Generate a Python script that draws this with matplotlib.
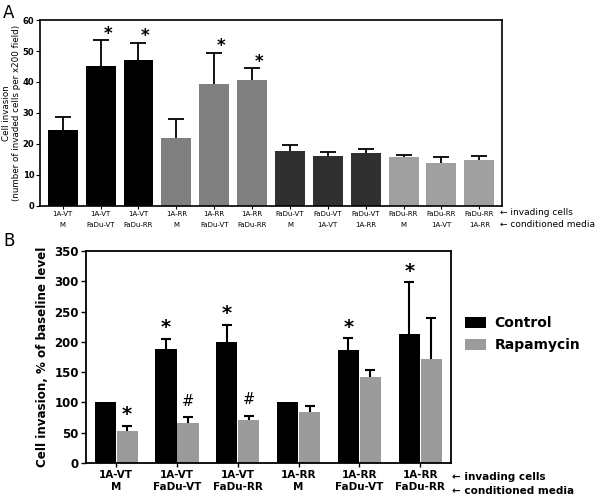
import numpy as np
import matplotlib
matplotlib.use('Agg')
import matplotlib.pyplot as plt

# panel A data
a_labels = ["1A-VT\nM", "1A-VT\nFaDu-VT", "1A-VT\nFaDu-RR",
            "1A-RR\nM", "1A-RR\nFaDu-VT", "1A-RR\nFaDu-RR",
            "FaDu-VT\nM", "FaDu-VT\n1A-VT", "FaDu-VT\n1A-RR",
            "FaDu-RR\nM", "FaDu-RR\n1A-VT", "FaDu-RR\n1A-RR"]
a_means = [24.5, 45.2, 47.1, 21.8, 39.3, 40.5, 17.8, 16.1, 17.2, 15.8, 14.0, 14.8]
a_tops = [28.7, 53.5, 52.7, 28.0, 49.5, 44.4, 19.8, 17.3, 18.5, 16.5, 15.8, 16.2]
a_star = [False, True, True, False, True, True, False, False, False, False, False, False]
a_colors = ["#000000"] * 3 + ["#808080"] * 3 + ["#303030"] * 3 + ["#a0a0a0"] * 3

# panel B data
b_labels = ["1A-VT\nM", "1A-VT\nFaDu-VT", "1A-VT\nFaDu-RR",
            "1A-RR\nM", "1A-RR\nFaDu-VT", "1A-RR\nFaDu-RR"]
ctrl = [100, 188, 200, 100, 187, 213]
ctrl_top = [100, 205, 228, 100, 206, 298]
ctrl_mark = ["", "*", "*", "", "*", "*"]
rapa = [52.7, 66.4, 70.8, 84.5, 142, 171]
rapa_top = [61.4, 76, 78, 93.8, 153.6, 238.6]
rapa_mark = ["*", "#", "#", "", "", ""]


def up_err(ax, x, y, top, lw, cap):
    # one-sided (upper) error bar, lower cap hidden
    eb = ax.errorbar(x, y, yerr=[[0], [top - y]], fmt='none', ecolor='black',
                     elinewidth=lw, capsize=cap, capthick=lw)
    eb.lines[1][0].set_visible(False)


fig = plt.figure(figsize=(6, 5.01), dpi=100)

# ---------------- panel A
axA = fig.add_axes([0.0667, 0.589, 0.77, 0.371])
xa = np.arange(len(a_means))
axA.bar(xa, a_means, width=0.79, color=a_colors)
for i in range(len(a_means)):
    up_err(axA, xa[i], a_means[i], a_tops[i], 1.3, 6)
    if a_star[i]:
        axA.annotate("*", (xa[i], a_tops[i]), xytext=(5, -2), textcoords='offset points',
                     ha='center', va='bottom', fontsize=12, fontweight='bold')
axA.set_xlim(-0.6, len(a_means) - 0.4)
axA.set_ylim(0, 60)
axA.set_yticks(range(0, 61, 10))
axA.set_xticks(xa)
axA.set_xticklabels(a_labels, fontsize=5, linespacing=1.9)
axA.tick_params(axis='y', labelsize=6, length=3, width=0.8, pad=1)
axA.tick_params(axis='x', length=2.5, width=0.8, pad=1.5)
for t in axA.get_yticklabels():
    t.set_fontweight('bold')
axA.set_ylabel("Cell invasion\n(number of invaded cells per x200 field)", fontsize=6.3,
               labelpad=1.5, linespacing=1.15)
for s in axA.spines.values():
    s.set_linewidth(1.2)
fig.text(3 / 600, 1 - 13 / 501, "A", fontsize=12, va='center')
fig.text(500 / 600, 1 - 212 / 501, "\u2190 invading cells", fontsize=6.5, va='center')
fig.text(500 / 600, 1 - 224.5 / 501, "\u2190 conditioned media", fontsize=6.5, va='center')

# ---------------- panel B
axB = fig.add_axes([0.143, 0.076, 0.608, 0.423])
xb = np.arange(len(ctrl))
w = 0.35
off = 0.18
axB.bar(xb - off, ctrl, width=w, color='black', label='Control')
axB.bar(xb + off, rapa, width=w, color='#9b9b9b', label='Rapamycin')
for i in range(len(ctrl)):
    if ctrl_top[i] > ctrl[i]:
        up_err(axB, xb[i] - off, ctrl[i], ctrl_top[i], 1.5, 3.5)
    up_err(axB, xb[i] + off, rapa[i], rapa_top[i], 1.5, 3.5)
    if ctrl_mark[i]:
        axB.annotate(ctrl_mark[i], (xb[i] - off, ctrl_top[i]), xytext=(0, 1),
                     textcoords='offset points', ha='center', va='bottom',
                     fontsize=14, fontweight='bold')
    if rapa_mark[i] == "*":
        axB.annotate("*", (xb[i] + off, rapa_top[i]), xytext=(0, 1),
                     textcoords='offset points', ha='center', va='bottom',
                     fontsize=14, fontweight='bold')
    elif rapa_mark[i]:
        axB.annotate(rapa_mark[i], (xb[i] + off, rapa_top[i]), xytext=(0, 6),
                     textcoords='offset points', ha='center', va='bottom',
                     fontsize=10.5)
axB.set_xlim(-0.5, len(ctrl) - 0.5)
axB.set_ylim(0, 350)
axB.set_yticks(range(0, 351, 50))
axB.set_xticks(xb)
axB.set_xticklabels(b_labels, fontsize=7.5, fontweight='bold', linespacing=1.25)
axB.tick_params(axis='y', labelsize=8.5, length=3.5, width=1, pad=1.5)
axB.tick_params(axis='x', length=3, width=1, pad=2)
for t in axB.get_yticklabels():
    t.set_fontweight('bold')
axB.set_ylabel("Cell invasion, % of baseline level", fontsize=8.6, fontweight='bold',
               labelpad=4)
for s in axB.spines.values():
    s.set_linewidth(1.3)
axB.legend(loc='upper left', bbox_to_anchor=(1.004, 0.752), frameon=False,
           prop={'size': 10, 'weight': 'bold'}, handlelength=1.55, handleheight=0.8,
           handletextpad=0.6, labelspacing=0.6)
fig.text(3 / 600, 1 - 241 / 501, "B", fontsize=12, va='center')
fig.text(452 / 600, 1 - 477 / 501, "\u2190 invading cells", fontsize=7.5,
         fontweight='bold', va='center')
fig.text(452 / 600, 1 - 490.5 / 501, "\u2190 conditioned media", fontsize=7.5,
         fontweight='bold', va='center')

fig.savefig("out.png", dpi=100)
